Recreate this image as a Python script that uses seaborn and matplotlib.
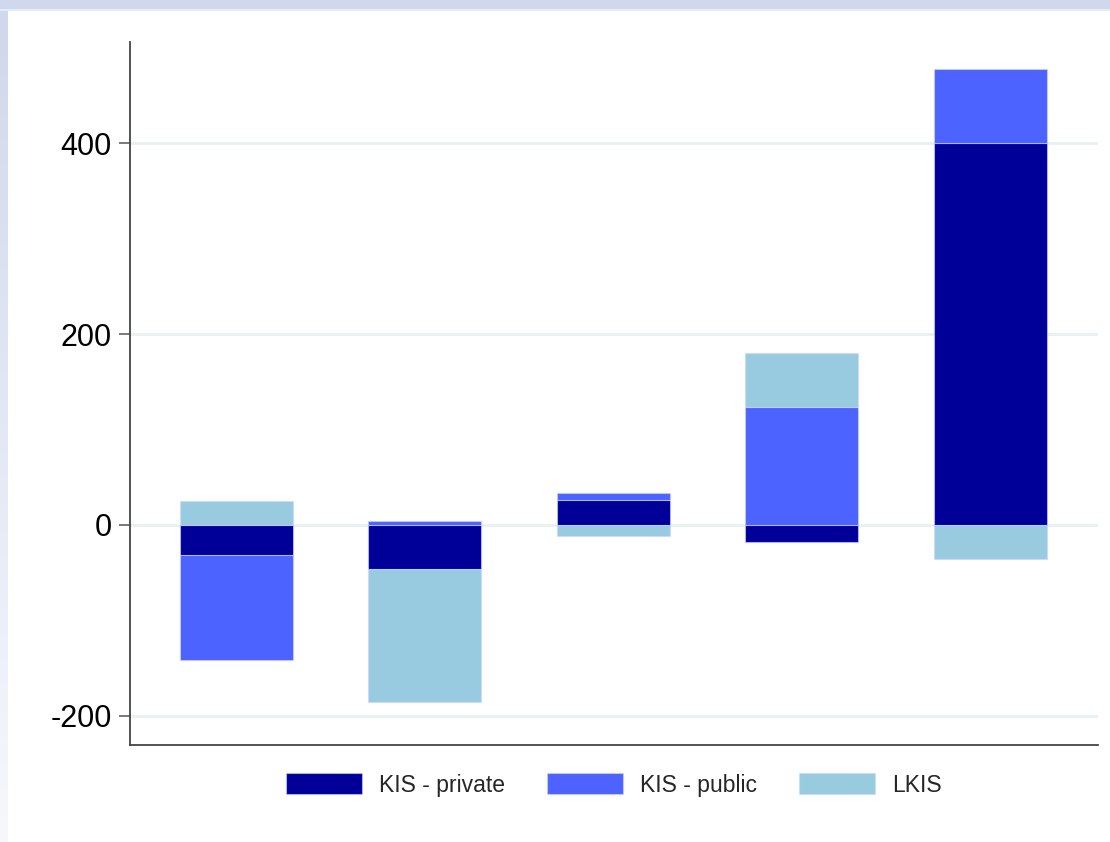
import numpy as np
import pandas as pd
import matplotlib
matplotlib.use("Agg")
import matplotlib.pyplot as plt
from matplotlib.patches import Patch, Rectangle
import seaborn as sns

# Contributions by group (five groups, three components each)
groups = ["G1", "G2", "G3", "G4", "G5"]
kis_private = [-31, -46, 26, -18, 400]
kis_public = [-110, 4.5, 8, 123.5, 77.5]
lkis = [25, -139, -12, 57, -36]

series_names = ["KIS - private", "KIS - public", "LKIS"]
series_values = [kis_private, kis_public, lkis]
colors = ["#000099", "#4c63ff", "#99cbe0"]

sns.set_theme(style="white")
plt.rcParams["font.family"] = ["Liberation Sans", "DejaVu Sans"]

fig = plt.figure(figsize=(11.10, 8.42), dpi=100, facecolor="white")

# Frame decoration: band on top and fading band on the left
fig.patches.append(Rectangle((0, 1 - 9 / 842), 1, 9 / 842, transform=fig.transFigure,
                             facecolor="#cfd8ec", edgecolor="none", zorder=0))
fig.patches.append(Rectangle((0, 1 - 11 / 842), 1, 2 / 842, transform=fig.transFigure,
                             facecolor="#e4ecf4", edgecolor="none", zorder=0))
bg = fig.add_axes([0, 0, 8 / 1110, 1 - 9 / 842])
grad = np.linspace(0, 1, 256).reshape(-1, 1)
top_c = np.array([0xcf, 0xd8, 0xec]) / 255
bot_c = np.array([0xf6, 0xf8, 0xfd]) / 255
img = top_c[None, None, :] * (1 - grad[..., None]) + bot_c[None, None, :] * grad[..., None]
bg.imshow(img, aspect="auto", extent=[0, 1, 0, 1], origin="upper")
bg.axis("off")

ax = fig.add_axes([130 / 1110, 97 / 842, 968 / 1110, 703 / 842])
ax.set_facecolor("white")

# Build long table with stacked offsets (positives up, negatives down)
rows = []
pos = np.zeros(len(groups))
neg = np.zeros(len(groups))
for name, vals in zip(series_names, series_values):
    vals = np.asarray(vals, dtype=float)
    bottom = np.where(vals >= 0, pos, neg)
    for g, v, b in zip(groups, vals, bottom):
        rows.append({"group": g, "series": name, "value": v, "bottom": b})
    pos = pos + np.clip(vals, 0, None)
    neg = neg + np.clip(vals, None, 0)
df = pd.DataFrame(rows)

edge = (0.80, 0.84, 1.0, 0.6)
for name, color in zip(series_names, colors):
    sub = df[df["series"] == name]
    sns.barplot(data=sub, x="group", y="value", order=groups, color=color,
                bottom=sub["bottom"].to_numpy(), width=0.6, saturation=1,
                edgecolor=edge, linewidth=0.8,
                errorbar=None, ax=ax, zorder=3)

ax.set_xlim(-0.565, 4.573)
ax.set_ylim(-230.4, 505.8)
ax.set_yticks([-200, 0, 200, 400])
ax.set_yticklabels(["-200", "0", "200", "400"])
ax.yaxis.grid(True, color="#e8f0f2", linewidth=2, zorder=0)
ax.xaxis.grid(False)
ax.set_axisbelow(True)
ax.set_xticks([])
ax.set_xlabel("")
ax.set_ylabel("")
for s in ["top", "right"]:
    ax.spines[s].set_visible(False)
for s in ["left", "bottom"]:
    ax.spines[s].set_color("#444444")
    ax.spines[s].set_linewidth(1.3)
ax.tick_params(axis="y", which="major", left=True, length=8, width=1.1,
               color="#555555", labelsize=22, labelcolor="black", pad=5)

handles = [Patch(facecolor=c, edgecolor=edge, linewidth=0.8) for c in colors]
fig.legend(handles, series_names, loc="center", bbox_to_anchor=(614 / 1110, 57 / 842),
           ncol=3, frameon=False, fontsize=16.5, handlelength=3.3, handleheight=1.0,
           handletextpad=0.75, columnspacing=1.85)

fig.savefig("out.png", dpi=100, facecolor="white")
